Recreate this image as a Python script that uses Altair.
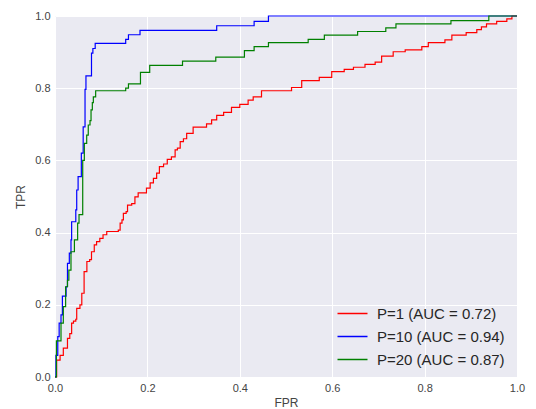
import altair as alt
import pandas as pd

labels = ["P=1 (AUC = 0.72)", "P=10 (AUC = 0.94)", "P=20 (AUC = 0.87)"]
colors = ["#FF0000", "#0000FF", "#008000"]

# ROC step points: (FPR at the vertical jump, TPR at top of the jump)
red_fpr = [0, 0.0036, 0.011, 0.018, 0.027, 0.032, 0.036, 0.040, 0.045, 0.047, 0.054, 0.058,
           0.063, 0.069, 0.075, 0.079, 0.085, 0.090, 0.097, 0.104, 0.112, 0.137, 0.141, 0.145,
           0.148, 0.154, 0.157, 0.166, 0.173, 0.180, 0.198, 0.206, 0.213, 0.220, 0.226, 0.235,
           0.243, 0.252, 0.260, 0.265, 0.271, 0.278, 0.285, 0.299, 0.328, 0.339, 0.350, 0.365,
           0.382, 0.400, 0.418, 0.429, 0.447, 0.512, 0.534, 0.572, 0.599, 0.626, 0.646, 0.671,
           0.693, 0.707, 0.732, 0.758, 0.794, 0.808, 0.844, 0.859, 0.890, 0.913, 0.923, 0.934,
           0.956, 0.978, 0.989, 1.0]
red_tpr = [0, 0.047, 0.060, 0.080, 0.107, 0.120, 0.149, 0.155, 0.160, 0.190, 0.200, 0.232,
           0.292, 0.320, 0.325, 0.347, 0.366, 0.375, 0.384, 0.394, 0.403, 0.407, 0.426, 0.435,
           0.453, 0.458, 0.476, 0.480, 0.499, 0.510, 0.523, 0.538, 0.550, 0.565, 0.583, 0.590,
           0.603, 0.610, 0.629, 0.634, 0.652, 0.660, 0.675, 0.692, 0.701, 0.712, 0.725, 0.733,
           0.747, 0.755, 0.767, 0.776, 0.793, 0.802, 0.821, 0.830, 0.846, 0.852, 0.858, 0.866,
           0.872, 0.889, 0.901, 0.906, 0.915, 0.926, 0.934, 0.947, 0.954, 0.962, 0.970, 0.978,
           0.985, 0.992, 1.0, 1.0]

blue_fpr = [0, 0.002, 0.006, 0.009, 0.013, 0.016, 0.024, 0.027, 0.031, 0.0346, 0.036, 0.045,
            0.047, 0.050, 0.057, 0.061, 0.065, 0.067, 0.079, 0.082, 0.087, 0.153, 0.159, 0.184,
            0.350, 0.431, 0.462, 1.0]
blue_tpr = [0, 0.060, 0.112, 0.149, 0.172, 0.224, 0.250, 0.315, 0.343, 0.380, 0.430, 0.463,
            0.518, 0.555, 0.620, 0.693, 0.797, 0.834, 0.897, 0.910, 0.924, 0.935, 0.948, 0.960,
            0.973, 0.985, 1.0, 1.0]

green_fpr = [0, 0.003, 0.013, 0.018, 0.023, 0.027, 0.030, 0.0346, 0.042, 0.049, 0.052, 0.060,
             0.0635, 0.0686, 0.072, 0.0758, 0.078, 0.0808, 0.083, 0.088, 0.153, 0.159, 0.185,
             0.205, 0.276, 0.348, 0.410, 0.431, 0.462, 0.548, 0.583, 0.655, 0.716, 0.738, 0.857,
             0.939, 1.0]
green_tpr = [0, 0.100, 0.149, 0.195, 0.250, 0.268, 0.296, 0.347, 0.380, 0.426, 0.450, 0.600,
             0.647, 0.670, 0.698, 0.710, 0.740, 0.760, 0.776, 0.793, 0.800, 0.812, 0.844,
             0.863, 0.875, 0.886, 0.904, 0.915, 0.926, 0.935, 0.947, 0.957, 0.967, 0.978, 0.987,
             1.0, 1.0]

ticks = [0.0, 0.2, 0.4, 0.6, 0.8, 1.0]

rows = []
for lab, xs, ys in zip(labels, [red_fpr, blue_fpr, green_fpr], [red_tpr, blue_tpr, green_tpr]):
    for i, (x, y) in enumerate(zip(xs, ys)):
        rows.append({"series": lab, "fpr": x, "tpr": y, "order": i})
df = pd.DataFrame(rows)

font = "Liberation Sans"

chart = alt.Chart(df).mark_line(interpolate="step-after", strokeWidth=1.2).encode(
    x=alt.X("fpr:Q", title="FPR",
            scale=alt.Scale(domain=[0, 1], nice=False, zero=False),
            axis=alt.Axis(values=ticks, format=".1f", labelFlush=False, titlePadding=4)),
    y=alt.Y("tpr:Q", title="TPR",
            scale=alt.Scale(domain=[0, 1], nice=False, zero=False),
            axis=alt.Axis(values=ticks, format=".1f", labelFlush=False, titlePadding=7)),
    color=alt.Color("series:N", sort=labels,
                    scale=alt.Scale(domain=labels, range=colors),
                    legend=alt.Legend(title=None, orient="none", legendX=290, legendY=290,
                                      symbolType="M-3,0H3", symbolSize=100,
                                      symbolStrokeWidth=1.5, labelFontSize=15,
                                      labelFont=font, labelColor="#262626",
                                      labelOffset=17, rowPadding=7, padding=0)),
    order="order:Q",
).properties(
    width=462, height=361,
    padding={"left": 47, "top": 8, "right": 10, "bottom": 40},
    autosize="none",
).configure_view(
    fill="#EAEAF2", strokeWidth=0
).configure_axis(
    grid=True, gridColor="#FFFFFF", gridWidth=1, domain=False, ticks=False, tickSize=0,
    labelFont=font, labelFontSize=11, labelColor="#444444", labelPadding=5,
    titleFont=font, titleFontSize=12, titleFontWeight="normal", titleColor="#444444",
)

chart.save("out.html", embed_options={"renderer": "svg", "actions": False})
